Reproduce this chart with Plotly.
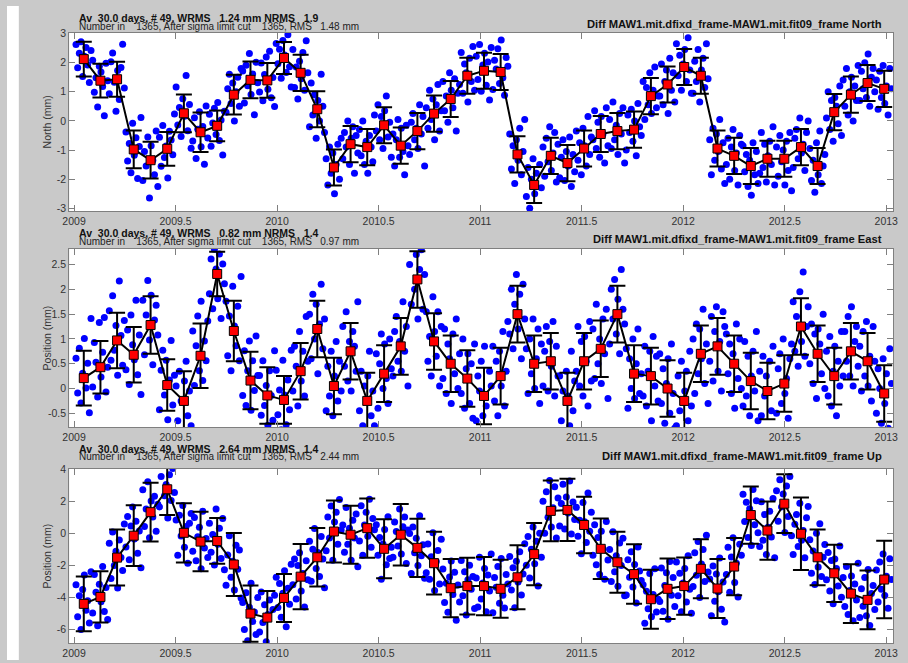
import plotly.graph_objects as go

# ---------------- data ----------------
BIN_EPOCH = [2009.048, 2009.130, 2009.212, 2009.294, 2009.377, 2009.459, 2009.541, 2009.623,
             2009.705, 2009.787, 2009.869, 2009.952, 2010.034, 2010.116, 2010.198, 2010.280,
             2010.362, 2010.444, 2010.527, 2010.609, 2010.691, 2010.773, 2010.855, 2010.937,
             2011.019, 2011.101, 2011.184, 2011.266, 2011.348, 2011.430, 2011.512, 2011.594,
             2011.676, 2011.758, 2011.841, 2011.923, 2012.005, 2012.087, 2012.169, 2012.251,
             2012.333, 2012.415, 2012.498, 2012.580, 2012.662, 2012.744, 2012.826, 2012.908,
             2012.990]

NORTH_AVG = [2.12, 1.38, 1.43, -0.98, -1.35, -0.96, 0.26, -0.39, -0.17, 0.90, 1.41, 1.39, 2.16,
             1.65, 0.40, -1.60, -0.80, -0.90, -0.15, -0.85, -0.35, 0.25, 0.75, 1.55, 1.72, 1.68,
             -1.15, -2.20, -1.20, -1.45, -0.95, -0.45, -0.35, -0.30, 0.85, 1.25, 1.85, 1.55,
             -0.95, -1.20, -1.55, -1.30, -1.30, -0.90, -1.55, 0.30, 0.90, 1.30, 1.10]
NORTH_ERR = [0.60, 0.58, 0.60, 0.65, 0.63, 0.58, 0.65, 0.68, 0.53, 0.68, 0.63, 0.60, 0.55,
             0.62, 0.62, 0.62, 0.62, 0.62, 0.62, 0.62, 0.62, 0.62, 0.62, 0.62, 0.62, 0.62,
             0.62, 0.62, 0.62, 0.62, 0.62, 0.62, 0.62, 0.62, 0.62, 0.62, 0.62, 0.62,
             0.62, 0.62, 0.62, 0.62, 0.62, 0.62, 0.62, 0.62, 0.62, 0.62, 0.62]

EAST_AVG = [0.21, 0.43, 0.97, 0.68, 1.28, 0.07, -0.25, 0.66, 2.31, 1.16, 0.16, -0.14, -0.23,
            0.35, 1.20, 0.05, 0.75, -0.25, 0.30, 0.85, 2.20, 0.95, 0.50, 0.20, -0.15, 0.25,
            1.50, 0.50, 0.55, -0.25, 0.55, 0.80, 1.50, 0.30, 0.25, 0.00, -0.25, 0.70, 0.85,
            0.50, 0.15, -0.05, 0.10, 1.25, 0.70, 0.25, 0.75, 0.55, -0.10]
EAST_ERR = [0.55, 0.53, 0.56, 0.56, 0.58, 0.52, 0.60, 0.65, 0.45, 0.61, 0.58, 0.57, 0.48,
            0.57, 0.57, 0.57, 0.57, 0.57, 0.57, 0.57, 0.57, 0.57, 0.57, 0.57, 0.57, 0.57,
            0.57, 0.57, 0.57, 0.57, 0.57, 0.57, 0.57, 0.57, 0.57, 0.57, 0.57, 0.57, 0.57,
            0.57, 0.57, 0.57, 0.57, 0.57, 0.57, 0.57, 0.57, 0.57, 0.57]

UP_AVG = [-4.40, -3.97, -1.51, -0.14, 1.33, 2.76, 0.04, -0.51, -0.47, -1.94, -5.01, -5.26, -4.03,
          -2.70, -1.49, 0.12, -0.08, 0.33, -0.96, -0.08, -0.90, -1.86, -3.42, -3.29, -3.29, -3.46,
          -2.74, -1.29, 1.41, 1.47, 0.53, -0.96, -1.80, -2.54, -4.11, -3.46, -3.29, -2.21, -3.44,
          -2.07, 1.15, 0.18, 1.86, -0.02, -1.49, -2.49, -3.76, -4.15, -2.88]
UP_ERR = [1.71, 1.60, 1.75, 1.90, 1.84, 1.60, 1.85, 1.86, 1.43, 1.97, 1.76, 1.66, 1.50,
          2.04, 1.83, 1.94, 1.81, 1.85, 1.84, 1.92, 1.82, 1.96, 1.82, 1.77, 1.82, 1.81,
          2.00, 1.94, 1.90, 1.94, 1.77, 1.89, 1.91, 1.86, 1.84, 1.89, 1.79, 1.84, 1.85,
          1.79, 1.79, 1.82, 1.84, 2.27, 1.74, 1.79, 1.84, 1.83, 2.42]

# days (relative to the bin centre) of the daily solutions plotted as dots
DOT_DAYS = [-14, -11, -8, -5, -2, 1, 4, 7, 10, 13]

# daily residuals about each 30-day average (mm)
NORTH_RES = [
    [0.5, -0.3, 0.2, 0.6, -0.6, 0.1, 0.4, -0.2, -0.8, 0.3],
    [0.7, -0.4, 0.1, -0.9, 0.5, 0.3, -0.2, -1.2, 0.6, 0.0],
    [-0.5, 0.6, 0.9, -0.1, -1.1, 0.3, -0.7, 0.4, 1.2, -0.3],
    [0.6, -0.4, 0.2, -0.8, 0.9, -0.2, 0.4, -1.0, 0.1, 1.1],
    [-0.7, 0.3, -0.2, 0.8, -1.3, 0.5, 0.0, -0.5, 1.0, -0.9],
    [0.4, -0.6, 0.8, -0.3, 0.1, -1.0, 0.6, 0.3, -0.2, 1.2],
    [0.9, -0.4, 0.2, -0.8, 0.5, -0.1, 1.3, -0.6, 0.3, -1.2],
    [-0.3, 0.5, -0.9, 0.1, 0.7, -0.5, 0.2, -1.1, 0.9, -0.2],
    [0.4, -0.7, 0.1, 0.6, -0.3, 0.8, -0.5, 0.2, -1.0, 0.5],
    [-0.6, 0.2, 0.7, -0.3, 0.4, -0.9, 0.1, 0.6, -0.4, 0.9],
    [0.3, -0.8, 0.5, -0.2, 0.9, -0.5, 0.2, -1.2, 0.6, -0.1],
    [-0.4, 0.6, -0.7, 0.2, 0.8, -0.3, 1.0, -0.6, 0.1, -0.9],
    [0.5, -0.2, 0.3, -0.7, 0.6, 0.1, -0.5, 0.8, -0.3, -1.0],
    [0.8, -0.5, 0.2, -0.9, 0.4, -0.2, 0.7, -0.6, 1.1, 0.0],
    [-0.6, 0.9, -0.2, 0.5, -1.0, 0.3, -0.4, 1.2, 0.1, -0.8],
    [0.3, -0.6, 0.7, -0.2, 0.5, -0.9, 0.1, 0.8, -0.4, 1.0],
    [-0.5, 0.4, -0.1, 0.8, -0.7, 0.2, 0.6, -1.0, 0.3, -0.3],
    [0.6, -0.3, 0.9, -0.6, 0.2, -0.9, 0.4, 0.0, -0.5, 1.1],
    [-0.2, 0.7, -0.5, 0.3, -0.8, 0.5, 1.0, -0.4, 0.1, -1.1],
    [0.4, -0.7, 0.2, 0.9, -0.4, 0.6, -0.2, -1.0, 0.7, 0.0],
    [-0.8, 0.3, 0.6, -0.3, 0.1, -0.6, 0.9, -0.1, 0.5, -1.2],
    [0.2, -0.5, 0.8, -0.2, 0.5, -0.9, 0.3, 1.0, -0.6, 0.1],
    [0.6, -0.4, 0.1, -0.8, 0.9, 0.3, -0.3, 0.7, -1.1, 0.2],
    [-0.3, 0.8, -0.6, 0.4, 0.1, -0.9, 0.6, -0.2, 1.0, -0.5],
    [0.5, -0.3, 0.9, -0.7, 0.2, 0.6, -0.5, 0.3, -1.0, 0.8],
    [-0.6, 0.4, 0.1, 0.8, -0.4, 1.1, -0.2, -0.8, 0.5, 0.2],
    [0.7, -0.5, 0.3, -1.0, 0.5, -0.2, 0.9, -0.7, 0.1, 1.2],
    [-0.4, 0.6, -0.8, 0.2, 0.9, -0.3, 0.4, -1.1, 0.7, -0.1],
    [0.3, -0.7, 0.6, -0.2, 1.0, -0.5, 0.1, 0.8, -0.9, 0.4],
    [-0.5, 0.2, 0.8, -0.6, 0.4, -0.1, 0.9, -0.8, 0.3, -0.3],
    [0.6, -0.4, 0.2, -0.9, 0.7, 0.1, -0.6, 1.1, -0.2, 0.4],
    [-0.2, 0.8, -0.5, 0.4, -0.8, 0.6, 0.0, -1.0, 0.9, -0.4],
    [0.4, -0.6, 1.0, -0.3, 0.2, -0.8, 0.6, -0.1, 0.8, -1.1],
    [-0.7, 0.5, -0.1, 0.7, -0.4, 0.3, -0.9, 0.9, 0.1, -0.2],
    [0.5, -0.8, 0.3, -0.3, 0.8, -0.6, 0.2, 1.0, -0.4, 0.0],
    [-0.4, 0.7, -0.7, 0.1, 0.5, -1.0, 0.9, -0.2, 0.4, -0.6],
    [0.8, -0.3, 0.4, -0.8, 0.1, 0.6, -0.5, 1.0, -0.1, -0.9],
    [-0.6, 0.5, -0.2, 0.9, -0.9, 0.2, 0.6, -0.4, 1.1, -0.1],
    [0.3, -0.9, 0.7, -0.4, 0.5, -0.1, 1.0, -0.7, 0.2, -1.2],
    [-0.3, 0.6, -0.8, 0.3, 0.9, -0.5, 0.1, -1.0, 0.7, 0.4],
    [0.7, -0.2, 0.4, -0.7, 0.2, -1.0, 0.8, -0.3, 0.5, -0.6],
    [-0.5, 0.9, -0.3, 0.5, -0.8, 0.1, 0.6, -0.2, 1.1, -0.9],
    [0.4, -0.6, 0.8, -0.1, 0.3, -0.9, 0.6, -0.4, 0.9, -1.1],
    [-0.7, 0.3, 0.6, -0.4, 1.0, -0.2, 0.1, -0.8, 0.5, 0.9],
    [0.6, -0.5, 0.2, -0.9, 0.8, -0.3, 1.2, -0.6, 0.0, 0.4],
    [-0.2, 0.7, -0.6, 0.4, -1.0, 0.5, 0.2, -0.4, 0.9, -0.8],
    [0.5, -0.4, 0.9, -0.7, 0.1, 0.6, -0.9, 0.3, -0.2, 1.0],
    [-0.6, 0.4, -0.2, 0.7, -0.5, 1.0, -0.8, 0.2, 0.5, -0.3],
    [0.3, -0.7, 0.6, -0.3, 0.8, -0.5, 0.1, -0.9, 0.7, 0.0],
]

EAST_RES = [
    [0.4, -0.3, 0.6, -0.5, 0.1, 0.8, -0.2, 0.3, -0.7, 1.2],
    [-0.4, 0.5, 0.1, -0.6, 0.9, -0.2, 0.3, 1.0, -0.5, 0.0],
    [0.6, -0.4, 0.9, -0.2, 0.3, -0.7, 1.2, 0.1, -0.5, 0.4],
    [-0.3, 0.5, -0.6, 0.8, 0.2, -0.1, 1.1, -0.4, 0.4, -0.8],
    [0.5, -0.6, 0.2, 0.9, -0.3, 0.6, -0.8, 0.1, 0.4, -0.2],
    [-0.5, 0.3, 0.7, -0.2, 0.5, -0.7, 0.1, 0.9, -0.4, 0.2],
    [0.3, -0.4, 0.6, 0.0, -0.6, 0.4, 0.8, -0.3, 0.2, -0.5],
    [0.5, -0.6, 0.2, 0.8, -0.3, 1.1, -0.5, 0.3, -0.1, 0.7],
    [-0.4, 0.3, -0.7, 0.5, 0.1, -0.5, 0.4, -0.9, 0.2, -0.2],
    [0.6, -0.5, 0.3, -0.8, 0.9, 0.1, -0.3, 0.5, -0.6, 1.1],
    [-0.3, 0.6, -0.5, 0.2, 0.8, -0.6, 0.4, -0.2, 0.9, 0.1],
    [0.4, -0.4, 0.7, -0.2, 0.2, -0.6, 0.5, 0.0, -0.5, 0.9],
    [0.6, -0.3, 0.2, -0.6, 0.8, 0.1, -0.5, 0.4, -0.2, 1.0],
    [-0.4, 0.5, 0.1, -0.7, 0.8, -0.2, 0.4, -0.5, 1.1, 0.2],
    [0.3, -0.6, 0.7, -0.2, 0.5, -0.9, 0.1, 0.9, -0.4, 0.2],
    [-0.5, 0.4, -0.2, 0.7, -0.6, 0.2, 0.9, -0.3, 0.5, -0.1],
    [0.5, -0.3, 0.8, -0.6, 0.2, -0.8, 0.4, 0.1, -0.4, 1.0],
    [-0.2, 0.6, -0.5, 0.3, -0.7, 0.5, 1.0, -0.3, 0.2, -0.5],
    [0.4, -0.7, 0.2, 0.8, -0.3, 0.6, -0.1, -0.6, 0.7, 0.1],
    [-0.6, 0.3, 0.6, -0.3, 0.1, -0.5, 0.9, -0.1, 0.4, -0.8],
    [0.3, -0.5, 0.7, -0.2, 0.5, -0.8, 0.2, 0.6, -0.6, 0.1],
    [0.6, -0.4, 0.1, -0.7, 0.9, 0.2, -0.3, 0.6, -0.9, 0.3],
    [-0.3, 0.7, -0.6, 0.4, 0.1, -0.8, 0.6, -0.2, 0.9, -0.5],
    [0.5, -0.3, 0.8, -0.6, 0.2, 0.5, -0.5, 0.3, -0.8, 0.7],
    [-0.5, 0.4, 0.1, 0.7, -0.4, 1.0, -0.2, -0.7, 0.5, 0.2],
    [0.6, -0.5, 0.3, -0.8, 0.5, -0.2, 0.9, -0.6, 0.1, 1.1],
    [-0.4, 0.5, -0.7, 0.2, 0.8, -0.3, 0.4, -0.9, 0.6, -0.1],
    [0.3, -0.6, 0.5, -0.2, 0.9, -0.5, 0.1, 0.7, -0.8, 0.4],
    [-0.5, 0.2, 0.7, -0.6, 0.4, -0.1, 0.8, -0.7, 0.3, -0.3],
    [0.5, -0.4, 0.2, -0.8, 0.6, 0.1, -0.5, 1.0, -0.2, 0.4],
    [-0.2, 0.7, -0.5, 0.4, -0.7, 0.5, 0.0, -0.9, 0.8, -0.4],
    [0.4, -0.6, 0.9, -0.3, 0.2, -0.7, 0.6, -0.1, 0.8, -1.0],
    [-0.6, 0.5, -0.1, 0.7, -0.4, 0.3, -0.8, 0.9, 0.1, -0.2],
    [0.5, -0.7, 0.3, -0.3, 0.7, -0.5, 0.2, 0.9, -0.4, 0.0],
    [-0.4, 0.6, -0.6, 0.1, 0.5, -0.9, 0.8, -0.2, 0.4, -0.5],
    [0.7, -0.3, 0.4, -0.7, 0.1, 0.6, -0.5, 0.9, -0.1, -0.8],
    [-0.5, 0.5, -0.2, 0.8, -0.8, 0.2, 0.6, -0.4, 1.0, -0.1],
    [0.3, -0.8, 0.6, -0.4, 0.5, -0.1, 0.9, -0.6, 0.2, -1.0],
    [-0.3, 0.6, -0.7, 0.3, 0.8, -0.5, 0.1, -0.9, 0.7, 0.4],
    [0.6, -0.2, 0.4, -0.6, 0.2, -0.9, 0.8, -0.3, 0.5, -0.5],
    [-0.5, 0.8, -0.3, 0.5, -0.7, 0.1, 0.6, -0.2, 1.0, -0.8],
    [0.4, -0.5, 0.7, -0.1, 0.3, -0.8, 0.6, -0.4, 0.9, -0.9],
    [-0.6, 0.3, 0.6, -0.4, 0.9, -0.2, 0.1, -0.7, 0.5, 0.8],
    [0.5, -0.5, 0.2, -0.8, 0.7, -0.3, 1.1, -0.6, 0.0, 0.4],
    [-0.2, 0.6, -0.6, 0.4, -0.9, 0.5, 0.2, -0.4, 0.8, -0.7],
    [0.5, -0.4, 0.8, -0.6, 0.1, 0.6, -0.8, 0.3, -0.2, 0.9],
    [-0.5, 0.4, -0.2, 0.7, -0.5, 0.9, -0.7, 0.2, 0.5, -0.3],
    [0.3, -0.6, 0.6, -0.3, 0.8, -0.5, 0.1, -0.8, 0.7, 0.0],
    [-0.4, 0.5, 0.1, -0.6, 0.7, -0.2, 0.4, -0.7, 0.9, 0.2],
]

UP_RES = [
    [1.2, -0.8, 0.5, -1.6, 0.9, 1.8, -0.4, 0.2, -1.2, 2.0],
    [-1.0, 1.4, 0.3, -1.8, 0.8, -0.3, 1.9, -0.9, 0.6, -1.4],
    [0.9, -1.3, 1.6, -0.5, 0.4, -1.9, 1.1, 0.0, -0.8, 2.1],
    [-0.7, 1.2, -1.5, 0.6, 1.8, -0.2, 0.9, -1.1, 0.3, -2.0],
    [1.4, -0.9, 0.2, 1.9, -1.6, 0.7, -0.3, 1.0, -1.2, 0.5],
    [-1.1, 0.8, 1.5, -0.4, 0.3, -1.8, 0.9, -0.7, 1.3, -0.2],
    [0.8, -1.4, 1.1, -0.2, 1.7, -0.9, 0.4, -1.9, 0.6, 1.2],
    [-0.6, 1.5, -1.2, 0.3, 0.9, -1.7, 1.9, -0.4, 0.2, -1.0],
    [1.1, -0.7, 0.4, -1.5, 2.0, -0.2, 0.8, -1.1, 1.4, -1.8],
    [-1.3, 0.6, 1.8, -0.8, 0.2, -1.6, 1.2, -0.3, 0.9, -2.1],
    [0.7, -1.0, 1.3, -1.7, 0.4, 1.9, -0.5, 0.1, -1.3, 1.0],
    [-0.9, 1.6, -0.3, 0.8, -1.5, 0.2, 1.1, -2.0, 0.5, 1.4],
    [1.3, -0.6, 0.9, -1.2, 0.3, 1.7, -1.8, 0.6, -0.4, 2.1],
    [-0.5, 1.1, -1.4, 0.7, 1.5, -0.9, 0.2, -1.9, 1.0, -0.2],
    [1.0, -1.5, 0.5, 1.8, -0.7, 0.3, -1.2, 1.3, -0.1, -1.9],
    [-1.2, 0.9, -0.4, 1.6, -1.8, 0.6, 1.2, -0.8, 2.0, 0.1],
    [0.6, -1.1, 1.7, -0.6, 0.4, -1.6, 0.9, -0.2, 1.3, -2.0],
    [-0.8, 1.4, -1.7, 0.2, 1.0, -0.5, 1.8, -1.2, 0.6, -0.1],
    [1.5, -0.4, 0.7, -1.9, 0.3, 1.2, -1.0, 2.0, -0.6, 0.1],
    [-1.4, 0.8, 0.2, -0.7, 1.6, -1.2, 0.5, 1.1, -1.8, 0.3],
    [0.9, -1.6, 1.3, -0.3, 0.6, -1.1, 2.0, -0.5, 0.2, -1.9],
    [-0.6, 1.2, -1.0, 0.4, 1.9, -1.7, 0.1, 0.8, -1.3, 1.5],
    [1.2, -0.9, 0.3, -1.5, 0.7, 1.7, -0.4, 1.0, -2.0, 0.2],
    [-1.0, 1.6, -0.6, 0.9, -1.8, 0.4, 1.3, -0.2, 0.6, -1.4],
    [0.5, -1.3, 1.8, -0.8, 0.2, 1.1, -1.6, 0.7, -0.3, 2.0],
    [-1.5, 0.7, 0.1, 1.4, -0.9, 1.9, -0.4, -1.2, 0.9, 0.3],
    [1.3, -0.8, 0.6, -1.9, 1.0, -0.3, 1.6, -1.1, 0.2, 2.1],
    [-0.7, 1.1, -1.5, 0.3, 1.7, -0.6, 0.8, -2.0, 1.3, -0.2],
    [0.6, -1.4, 1.2, -0.4, 1.9, -1.0, 0.2, 1.5, -1.7, 0.8],
    [-1.0, 0.4, 1.6, -1.2, 0.8, -0.2, 1.8, -1.5, 0.5, -0.6],
    [1.1, -0.7, 0.3, -1.8, 1.4, 0.2, -1.1, 2.0, -0.4, 0.8],
    [-0.4, 1.5, -1.0, 0.7, -1.6, 1.1, 0.0, -1.9, 1.7, -0.7],
    [0.8, -1.2, 1.9, -0.6, 0.4, -1.5, 1.2, -0.2, 1.5, -2.1],
    [-1.3, 0.9, -0.2, 1.4, -0.8, 0.6, -1.8, 1.7, 0.2, -0.4],
    [0.9, -1.5, 0.5, -0.6, 1.6, -1.1, 0.3, 1.9, -0.8, 0.0],
    [-0.8, 1.3, -1.4, 0.2, 1.0, -1.9, 1.7, -0.4, 0.7, -1.1],
    [1.5, -0.6, 0.8, -1.6, 0.2, 1.1, -1.0, 1.9, -0.2, -1.7],
    [-1.1, 1.0, -0.4, 1.7, -1.8, 0.3, 1.2, -0.8, 2.1, -0.2],
    [0.6, -1.7, 1.4, -0.8, 0.9, -0.2, 1.9, -1.3, 0.4, -2.1],
    [-0.5, 1.2, -1.6, 0.6, 1.8, -1.0, 0.2, -1.9, 1.4, 0.7],
    [1.3, -0.4, 0.8, -1.4, 0.4, -1.9, 1.6, -0.6, 0.9, -1.1],
    [-1.0, 1.8, -0.6, 1.0, -1.5, 0.2, 1.2, -0.4, 2.0, -1.7],
    [0.8, -1.1, 1.5, -0.2, 0.6, -1.8, 1.1, -0.8, 1.7, -2.0],
    [-1.3, 0.6, 1.2, -0.8, 1.9, -0.4, 0.2, -1.5, 1.0, 1.7],
    [1.1, -1.0, 0.4, -1.7, 1.5, -0.6, 2.1, -1.2, 0.0, 0.8],
    [-0.4, 1.3, -1.1, 0.8, -1.9, 0.9, 0.3, -0.8, 1.7, -1.5],
    [1.0, -0.8, 1.7, -1.3, 0.2, 1.1, -1.7, 0.6, -0.4, 1.9],
    [-1.1, 0.7, -0.4, 1.4, -1.0, 1.9, -1.6, 0.4, 0.9, -0.6],
    [0.6, -1.4, 1.1, -0.6, 1.6, -1.0, 0.2, -1.8, 1.3, 0.0],
]

X_TICKS = [2009, 2009.5, 2010, 2010.5, 2011, 2011.5, 2012, 2012.5, 2013]
X_TICKTEXT = ["2009", "2009.5", "2010", "2010.5", "2011", "2011.5", "2012", "2012.5", "2013"]

PANELS = [
    dict(comp="North", ytitle="North (mm)", avg=NORTH_AVG, err=NORTH_ERR, res=NORTH_RES,
         wrms="1.24", nrms="1.9", rms="1.48", yrange=[-3.1, 3.03],
         yticks=[-3, -2, -1, 0, 1, 2, 3], yticktext=["-3", "-2", "-1", "0", "1", "2", "3"]),
    dict(comp="East", ytitle="Position (mm)", avg=EAST_AVG, err=EAST_ERR, res=EAST_RES,
         wrms="0.82", nrms="1.4", rms="0.97", yrange=[-0.78, 2.82],
         yticks=[-0.5, 0, 0.5, 1, 1.5, 2, 2.5], yticktext=["-0.5", "0", "0.5", "1", "1.5", "2", "2.5"]),
    dict(comp="Up", ytitle="Position (mm)", avg=UP_AVG, err=UP_ERR, res=UP_RES,
         wrms="2.64", nrms="1.4", rms="2.44", yrange=[-6.86, 4.05],
         yticks=[-6, -4, -2, 0, 2, 4], yticktext=["-6", "-4", "-2", "0", "2", "4"]),
]

# ---------------- layout geometry (pixels) ----------------
W, H = 908, 663
PANEL_PX = [(27, 208), (246, 427), (469, 646)]   # top, bottom of each plot box
HEAD_PX = [(11.8, 20.5, 18.3), (230.2, 238.8, 236.7), (448.8, 457.2, 455.7)]
X_LEFT, X_RIGHT = 63, 898
XRANGE = [2008.976, 2013.034]

FONT = "Liberation Sans, Arial, Helvetica, sans-serif"
GRAY_BG = "#c9c9c9"
AXIS_COL = "#7f7f7f"
NB = "\u00a0"

fig = go.Figure()
annotations = []

for k, p in enumerate(PANELS):
    xa = "x" if k == 0 else f"x{k+1}"
    ya = "y" if k == 0 else f"y{k+1}"
    dx, dy = [], []
    for i, c in enumerate(BIN_EPOCH):
        for d, r in zip(DOT_DAYS, p["res"][i]):
            dx.append(c + d / 365.25)
            dy.append(p["avg"][i] + r)
    fig.add_trace(go.Scatter(
        x=dx, y=dy, mode="markers", xaxis=xa, yaxis=ya,
        marker=dict(color="#0000ff", size=7, line=dict(width=0)),
        hoverinfo="skip", showlegend=False))
    fig.add_trace(go.Scatter(
        x=BIN_EPOCH, y=p["avg"], mode="lines+markers", xaxis=xa, yaxis=ya,
        line=dict(color="black", width=2),
        marker=dict(symbol="square", color="#ff0000", size=9,
                    line=dict(color="black", width=1)),
        error_y=dict(type="data", array=p["err"], visible=True,
                     color="black", thickness=2, width=8),
        showlegend=False))

    top, bot = PANEL_PX[k]
    dom_y = [1 - bot / H, 1 - top / H]
    axis_common = dict(showline=True, linecolor=AXIS_COL, linewidth=1, mirror="ticks",
                       ticks="inside", ticklen=6, tickcolor=AXIS_COL, tickwidth=1,
                       showgrid=False, zeroline=False,
                       tickfont=dict(family=FONT, size=10.5, color="#333333"))
    fig.update_layout(**{
        ("xaxis" if k == 0 else f"xaxis{k+1}"): dict(
            domain=[X_LEFT / W, X_RIGHT / W], range=XRANGE, anchor=ya,
            tickvals=X_TICKS, ticktext=X_TICKTEXT, **axis_common),
        ("yaxis" if k == 0 else f"yaxis{k+1}"): dict(
            domain=dom_y, range=p["yrange"], anchor=xa,
            tickvals=p["yticks"], ticktext=p["yticktext"], **axis_common),
    })

    h1, h2, h3 = HEAD_PX[k]
    line1 = f"Av{NB*2}30.0 days, # 49, WRMS{NB*3}{p['wrms']} mm NRMS{NB*3}{p['nrms']}"
    line2 = f"Number in{NB*4}1365, After sigma limit cut{NB*4}1365, RMS{NB*3}{p['rms']} mm"
    annotations.append(dict(text=f"<b>{line1}</b>", x=71 / W, y=1 - h1 / H, xref="paper",
                            yref="paper", xanchor="left", yanchor="middle", showarrow=False,
                            font=dict(family=FONT, size=10.5, color="#111111")))
    annotations.append(dict(text=line2, x=71 / W, y=1 - h2 / H, xref="paper",
                            yref="paper", xanchor="left", yanchor="middle", showarrow=False,
                            font=dict(family=FONT, size=10, color="#222222")))
    annotations.append(dict(
        text=f"<b>Diff MAW1.mit.dfixd_frame-MAW1.mit.fit09_frame {p['comp']}</b>",
        x=889 / W, y=1 - h3 / H, xref="paper", yref="paper", xanchor="right",
        yanchor="middle", showarrow=False, font=dict(family=FONT, size=11.2, color="#111111")))
    annotations.append(dict(text=p["ytitle"], x=40 / W, y=1 - (top + bot) / 2 / H,
                            xref="paper", yref="paper", xanchor="center", yanchor="middle",
                            textangle=-90, showarrow=False,
                            font=dict(family=FONT, size=10.5, color="#333333")))

fig.update_layout(
    width=W, height=H, margin=dict(l=0, r=0, t=0, b=0), autosize=False,
    paper_bgcolor=GRAY_BG, plot_bgcolor="white",
    annotations=annotations,
    shapes=[dict(type="rect", xref="paper", yref="paper", x0=0, x1=12 / W, y0=0, y1=1,
                 fillcolor="white", line=dict(width=0), layer="below")],
)

POST = ("document.documentElement.style.margin='0';"
        "document.documentElement.style.overflow='hidden';"
        "document.body.style.margin='0';document.body.style.padding='0';"
        "document.body.style.overflow='hidden';")

fig.write_html("out.html",
               config={"displayModeBar": False, "responsive": False},
               post_script=POST)
